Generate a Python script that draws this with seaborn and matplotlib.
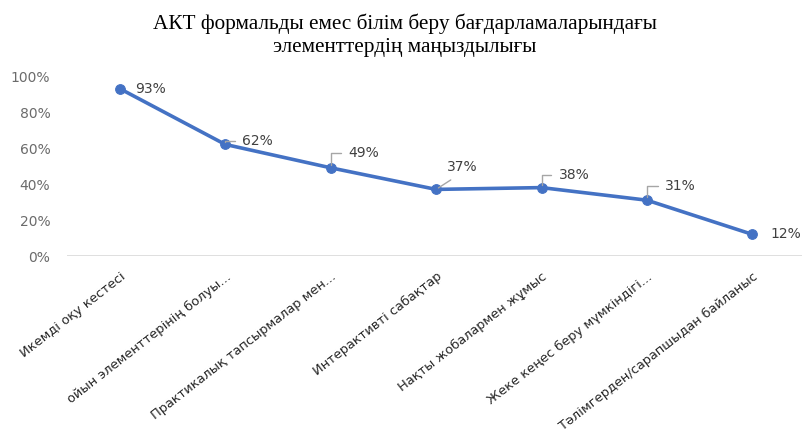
import matplotlib
matplotlib.use('Agg')
import matplotlib.pyplot as plt
import numpy as np
import pandas as pd
import seaborn as sns

# chart data
categories = [
    'Икемді оқу кестесі',
    'ойын элементтерінің болуы...',
    'Практикалық тапсырмалар мен...',
    'Интерактивті сабақтар',
    'Нақты жобалармен жұмыс',
    'Жеке кеңес беру мүмкіндігі...',
    'Тәлімгерден/сарапшыдан байланыс',
]
values = [0.93, 0.62, 0.49, 0.37, 0.38, 0.31, 0.12]
value_labels = ['93%', '62%', '49%', '37%', '38%', '31%', '12%']
y_ticks = [0.0, 0.2, 0.4, 0.6, 0.8, 1.0]
y_tick_labels = ['0%', '20%', '40%', '60%', '80%', '100%']
title = 'АКТ формальды емес білім беру бағдарламаларындағы\nэлементтердің маңыздылығы'

sns.set_style('white')
plt.rcParams['font.family'] = ['DejaVu Sans']

df = pd.DataFrame({'cat': categories, 'val': values, 'pos': np.arange(len(categories))})

fig = plt.figure(figsize=(8.02, 4.37), dpi=100)
ax = fig.add_axes([67 / 802, (437 - 256) / 437, 1 - 67 / 802, 180 / 437])

sns.lineplot(data=df, x='pos', y='val', ax=ax, color='#4472C4', linewidth=2.6,
             marker='o', markersize=7, markeredgecolor='#4472C4')

ax.set_xlim(-0.5, 6.47)
ax.set_ylim(0, 1.0)
ax.set_yticks(y_ticks)
ax.set_yticklabels(y_tick_labels, color='#6b6b6b', fontsize=10)
ax.set_xticks(df['pos'])
ax.set_xticklabels(categories, rotation=38, ha='right', va='top',
                   rotation_mode='anchor', color='#262626', fontsize=9.4)
ax.tick_params(axis='y', length=0, pad=12)
ax.tick_params(axis='x', length=0, pad=10)
ax.set_xlabel('')
ax.set_ylabel('')
for s in ax.spines.values():
    s.set_visible(False)
ax.axhline(0, color='#d9d9d9', linewidth=1.2, zorder=0)

# data label offsets (pixels) and leader styles
offsets = [(15, 0), (17, 3), (18, 15), (11, 22), (17, 13), (18, 14), (18, 0)]
leaders = [None, 'angle', 'angle', 'straight', 'angle', 'angle', None]
for i, (v, lab) in enumerate(zip(values, value_labels)):
    dx, dy = offsets[i]
    kw = {}
    if leaders[i] == 'angle':
        kw['arrowprops'] = dict(arrowstyle='-', color='#a6a6a6', lw=1,
                                connectionstyle='angle,angleA=0,angleB=90,rad=0',
                                shrinkA=3, shrinkB=2, relpos=(0, 0.5))
    elif leaders[i] == 'straight':
        kw['arrowprops'] = dict(arrowstyle='-', color='#a6a6a6', lw=1,
                                shrinkA=3, shrinkB=2, relpos=(0.4, 0))
    ax.annotate(lab, xy=(i, v), xytext=(dx, dy), textcoords='offset pixels',
                ha='left', va='center', fontsize=10, color='#404040',
                annotation_clip=False, **kw)

fig.text(405 / 802, 1 - 13 / 437, title, ha='center', va='top',
         fontsize=15.3, family=['Liberation Serif'], color='#000000',
         linespacing=1.3)

fig.savefig('out.png', dpi=100)
